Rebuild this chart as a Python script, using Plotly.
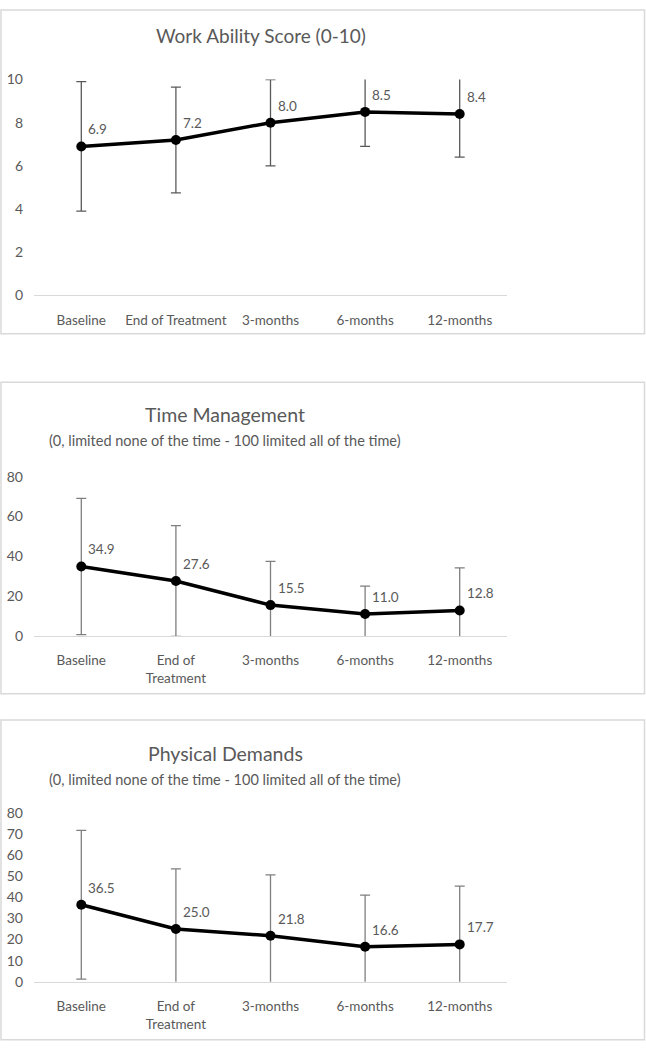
import plotly.graph_objects as go

# ---- data ----
timepoints = ["Baseline", "End of Treatment", "3-months", "6-months", "12-months"]
tick_one_line = ["Baseline", "End of Treatment", "3-months", "6-months", "12-months"]
tick_wrapped = ["Baseline", "End of<br>Treatment", "3-months", "6-months", "12-months"]

work_ability_mean = [6.9, 7.2, 8.0, 8.5, 8.4]
work_ability_sd = [3.0, 2.45, 2.0, 1.6, 2.0]

time_mgmt_mean = [34.9, 27.6, 15.5, 11.0, 12.8]
time_mgmt_sd = [34.2, 27.8, 21.9, 14.0, 21.4]

physical_mean = [36.5, 25.0, 21.8, 16.6, 17.7]
physical_sd = [35.3, 28.5, 28.9, 24.5, 27.6]

titles = ["Work Ability Score (0-10)", "Time Management", "Physical Demands"]
subtitle = "(0, limited none of the time - 100 limited all of the time)"

W, H = 646, 1050
FONT = "Lato"
GREY = "#595959"


def px_y(p):
    # pixel row (from top) -> paper fraction
    return 1 - p / H


def px_x(p):
    return p / W


panels = [
    dict(mean=work_ability_mean, sd=work_ability_sd, ticks=tick_one_line,
         yrange=[0, 10], dtick=2, y0=291, y1=71.7, bar_col="#595959",
         box=(1, 1, 644.5, 330)),
    dict(mean=time_mgmt_mean, sd=time_mgmt_sd, ticks=tick_wrapped,
         yrange=[0, 80], dtick=20, y0=637.3, y1=475.3, bar_col="#7f7f7f",
         box=(1, 379.3, 644.5, 696)),
    dict(mean=physical_mean, sd=physical_sd, ticks=tick_wrapped,
         yrange=[0, 80], dtick=10, y0=988.7, y1=817.3, bar_col="#7f7f7f",
         box=(1, 722.7, 644.5, 1047.7)),
]

fig = go.Figure()
annotations = []
shapes = []
layout = {}

for i, p in enumerate(panels, start=1):
    xa = "x" if i == 1 else f"x{i}"
    ya = "y" if i == 1 else f"y{i}"
    fig.add_trace(go.Scatter(
        x=timepoints, y=p["mean"], xaxis=xa, yaxis=ya,
        mode="lines+markers",
        line=dict(color="black", width=3.5),
        marker=dict(color="black", size=10),
        error_y=dict(type="data", array=p["sd"], visible=True,
                     color=p["bar_col"], thickness=1.3, width=5),
        showlegend=False, hoverinfo="skip",
    ))
    for x, v in zip(timepoints, p["mean"]):
        annotations.append(dict(
            x=x, y=v, xref=xa, yref=ya, text=f"{v:.1f}", showarrow=False,
            xanchor="left", yanchor="bottom", xshift=5, yshift=7,
            font=dict(family=FONT, size=13.5, color=GREY)))

    xkey = "xaxis" if i == 1 else f"xaxis{i}"
    ykey = "yaxis" if i == 1 else f"yaxis{i}"
    layout[xkey] = dict(
        domain=[px_x(34), px_x(507)], anchor=ya, type="category",
        categoryorder="array", categoryarray=timepoints,
        range=[-0.5, 4.5], tickvals=timepoints, ticktext=p["ticks"],
        showline=True, linecolor="#d9d9d9", linewidth=1.3,
        showgrid=False, zeroline=False, ticks="", ticklabelstandoff=12,
        tickfont=dict(family=FONT, size=13.5, color=GREY), fixedrange=True)
    layout[ykey] = dict(
        domain=[px_y(p["y0"]), px_y(p["y1"])], anchor=xa,
        range=p["yrange"], dtick=p["dtick"], showgrid=False, zeroline=False,
        showline=False, ticks="", ticklabelstandoff=10,
        tickfont=dict(family=FONT, size=14, color=GREY), fixedrange=True)

    bx0, by0, bx1, by1 = p["box"]
    shapes.append(dict(type="rect", xref="paper", yref="paper",
                       x0=px_x(bx0), x1=px_x(bx1), y0=px_y(by0), y1=px_y(by1),
                       line=dict(color="#d9d9d9", width=1.5), layer="below"))

# titles
annotations.append(dict(x=px_x(261), y=px_y(27), xref="paper", yref="paper",
                        text=titles[0], showarrow=False, xanchor="center", yanchor="middle",
                        font=dict(family=FONT, size=19, color=GREY)))
for ty, sy, t in [(412, 439, titles[1]), (756.7, 783.3, titles[2])]:
    annotations.append(dict(x=px_x(225), y=px_y(ty), xref="paper", yref="paper",
                            text=t, showarrow=False, xanchor="center", yanchor="middle",
                            font=dict(family=FONT, size=19.5, color=GREY)))
    annotations.append(dict(x=px_x(225), y=px_y(sy), xref="paper", yref="paper",
                            text=subtitle, showarrow=False, xanchor="center", yanchor="middle",
                            font=dict(family=FONT, size=14.5, color=GREY)))

fig.update_layout(
    width=W, height=H, margin=dict(l=0, r=0, t=0, b=0),
    paper_bgcolor="white", plot_bgcolor="white",
    annotations=annotations, shapes=shapes, **layout)

# pin the figure to the top-left corner of the page (no body margin)
pin_js = (
    "document.documentElement.style.overflow='hidden';"
    "document.body.style.margin='0';document.body.style.overflow='hidden';"
    "var gd=document.getElementById('{plot_id}');"
    "gd.style.position='fixed';gd.style.top='0';gd.style.left='0';"
)
fig.write_html("out.html", config={"displayModeBar": False}, post_script=pin_js)
